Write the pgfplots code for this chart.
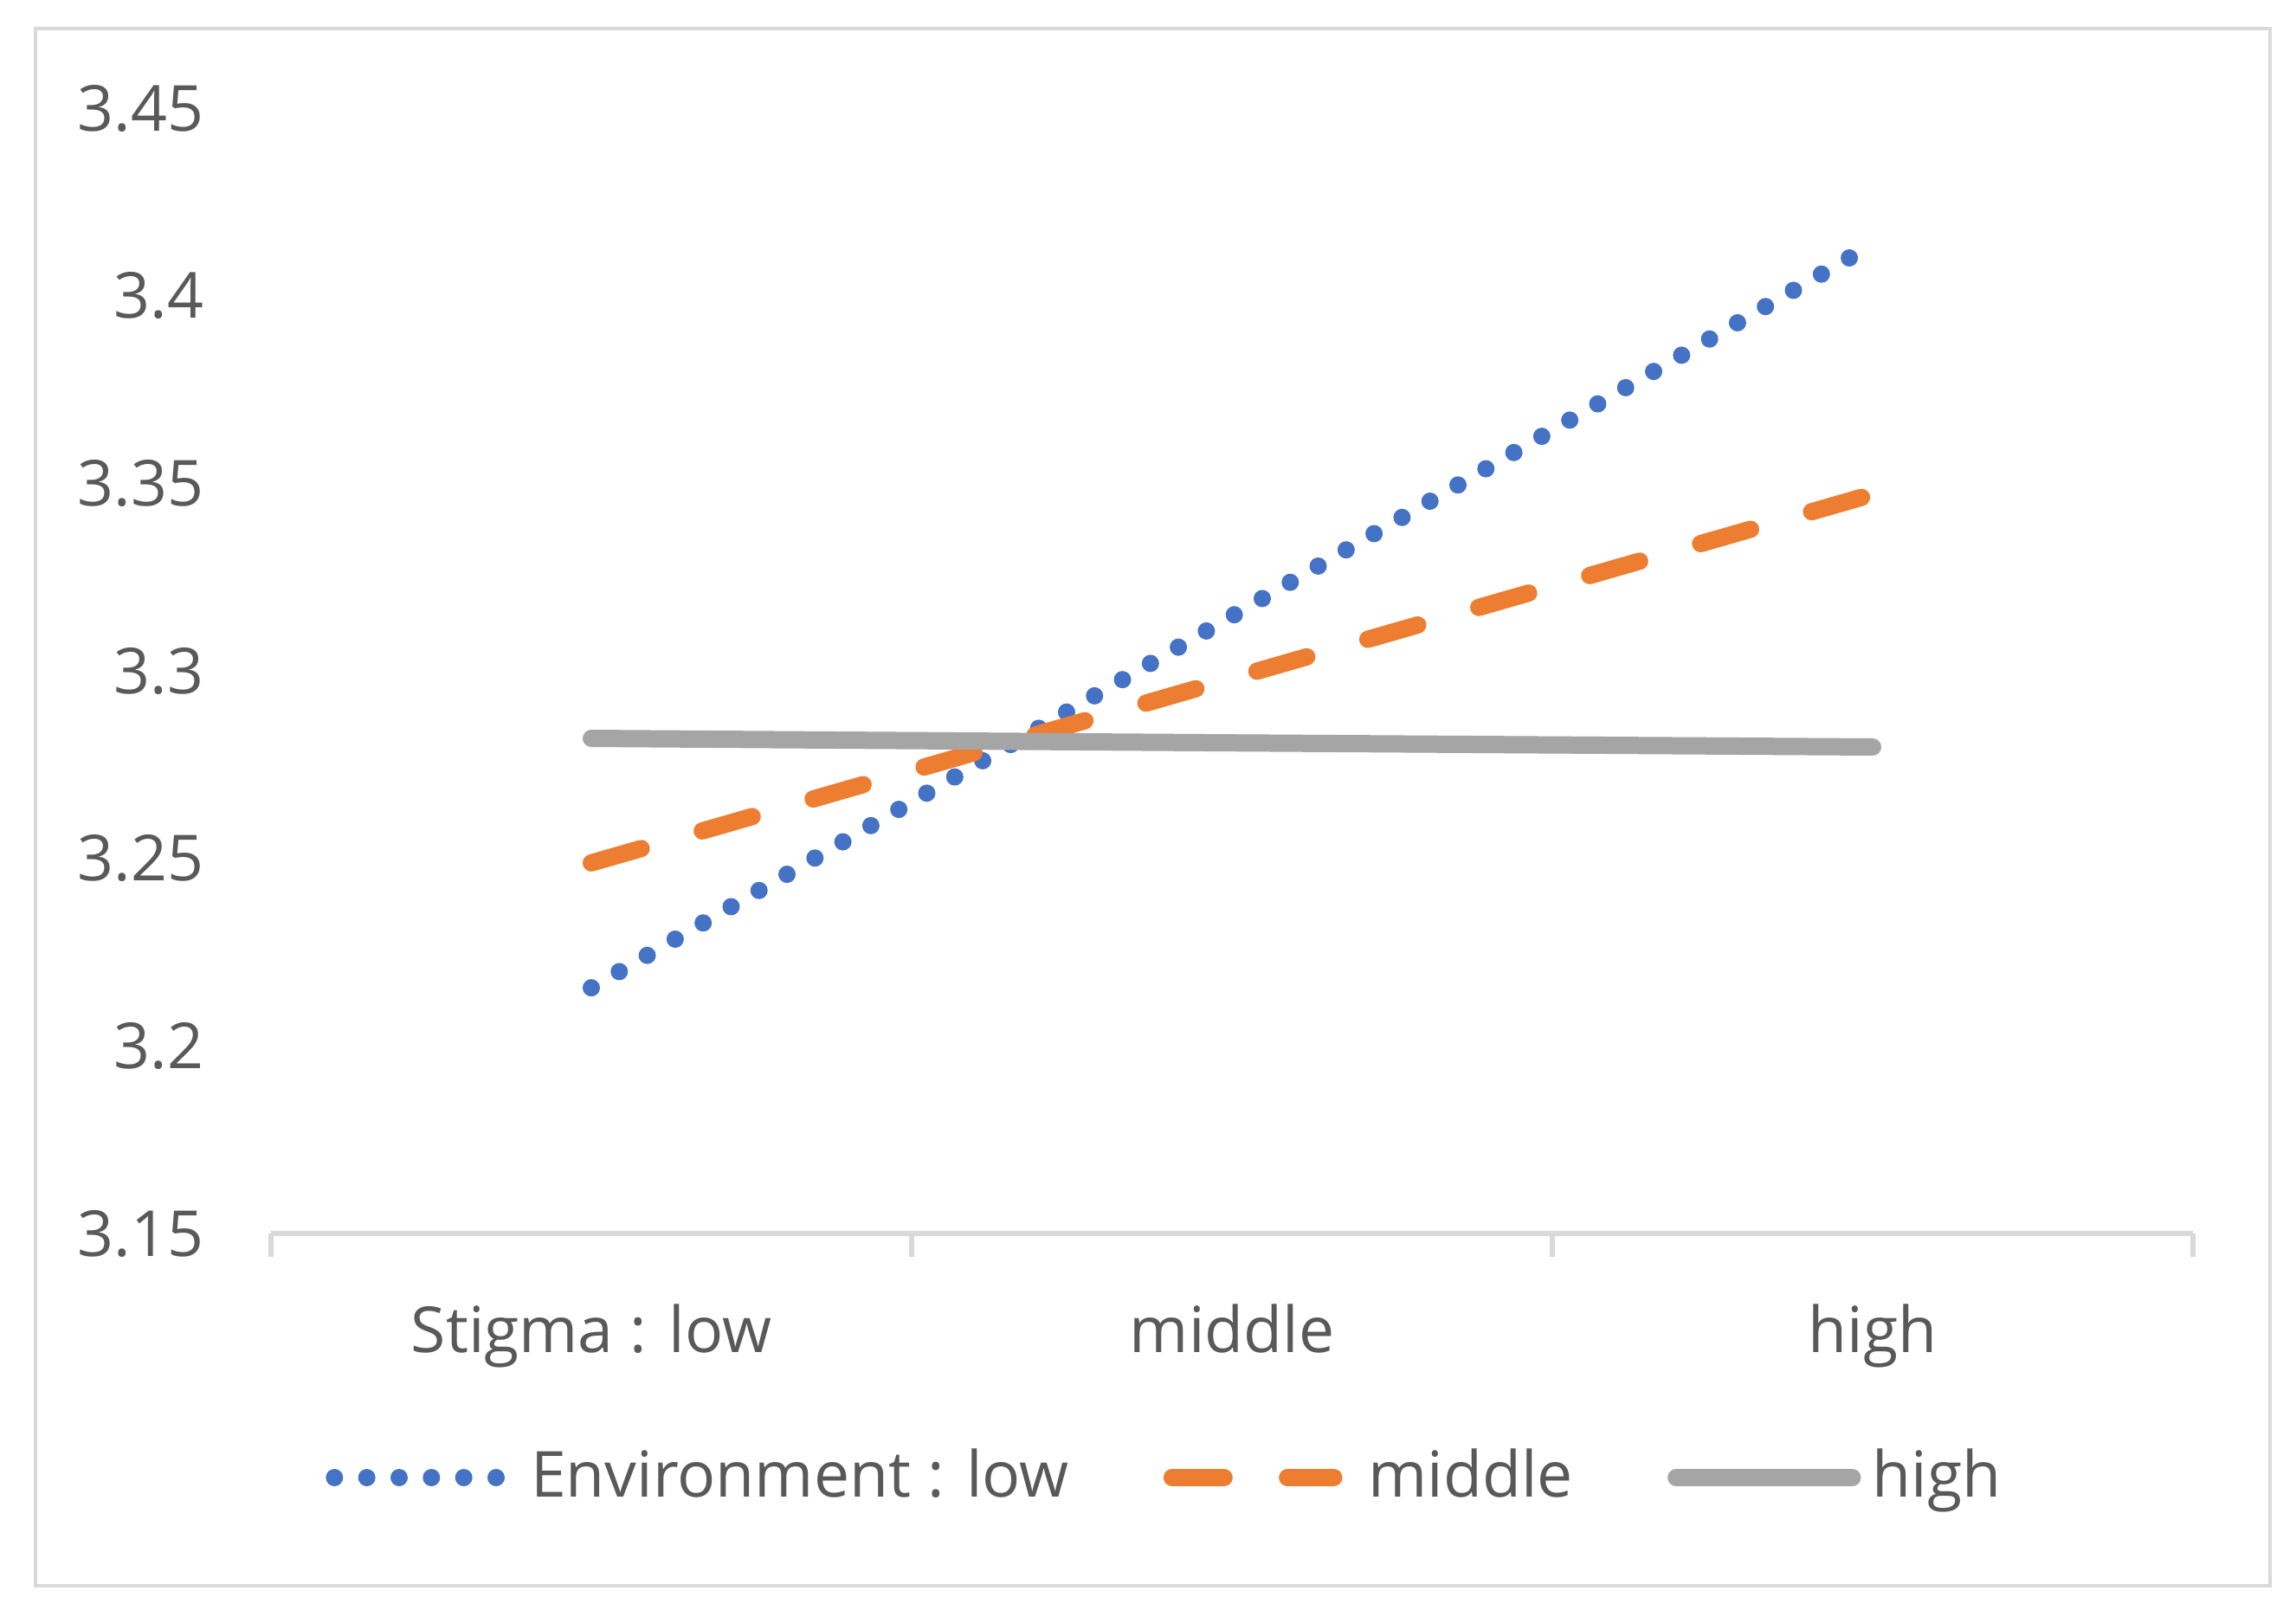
\documentclass[border=0pt]{standalone}
\usepackage{fontspec}
\setmainfont{Open Sans}
\usepackage{pgfplots}
\pgfplotsset{compat=1.18}
\definecolor{envlow}{HTML}{4472C4}
\definecolor{envmid}{HTML}{ED7D31}
\definecolor{envhigh}{HTML}{A5A5A5}
\definecolor{txtgray}{HTML}{595959}
\definecolor{axgray}{HTML}{D9D9D9}

\begin{document}
\begin{tikzpicture}[font=\fontsize{11}{13}\selectfont]
  % page size and chart border
  \useasboundingbox (-46.95pt,-65.1pt) rectangle (350.85pt,213.75pt);
  \draw[axgray, line width=0.6pt] (-40.8pt,-61.05pt) rectangle (346.35pt,208.8pt);
\begin{axis}[
    at={(0pt,0pt)}, anchor=south west,
    scale only axis,
    width=333pt, height=195pt,
    xmin=-0.5, xmax=2.5,
    ymin=3.15, ymax=3.45,
    clip=false,
    separate axis lines,
    axis x line*=bottom,
    axis y line*=left,
    axis line style={-},
    y axis line style={draw=none},
    x axis line style={draw=axgray, line width=0.8pt},
    ytick={3.15,3.2,3.25,3.3,3.35,3.4,3.45},
    yticklabels={3.15,3.2,3.25,3.3,3.35,3.4,3.45},
    xtick={0,1,2},
    xticklabels={Stigma : low, middle, high},
    minor xtick={-0.5,0.5,1.5,2.5},
    major tick length=0pt,
    minor tick length=4pt,
    tick align=outside,
    major tick style={draw=none},
    minor x tick style={draw=axgray, line width=0.8pt},
    yticklabel style={anchor=east, inner sep=0pt, xshift=-11.5pt, text=txtgray},
    xticklabel style={anchor=base, inner sep=0pt, yshift=-20.55pt, text=txtgray},
    % legend in one row below the axis
    legend columns=-1,
    legend cell align=left,
    legend image code/.code={\draw[#1] (0pt,0pt) -- (28pt,0pt);},
    legend style={
      at={(0,0)}, anchor=west,
      xshift=9.3pt, yshift=-42.3pt,
      draw=none, fill=none, inner sep=0pt,
      nodes={inner sep=0pt, text=txtgray},
      /tikz/every odd column/.append style={column sep=4.5pt},
      /tikz/every even column/.append style={column sep=16.4pt},
    },
]

  % Environment : low
  \addplot[envlow, line width=3pt, line cap=round, dash pattern=on 0pt off 5.6pt]
    coordinates {(0,3.2155) (1,3.3146) (2,3.4137)};

  % middle
  \addplot[envmid, line width=3pt, line cap=round, dash pattern=on 9pt off 11pt]
    coordinates {(0,3.2488) (1,3.2980) (2,3.3471)};

  % high (its legend line runs a little closer to its text)
  \addplot[envhigh, line width=3pt, line cap=round,
    legend image code/.code={
      \draw[envhigh, line width=3pt, line cap=round] (0pt,0pt) -- (28pt,0pt);
      \draw[envhigh, line width=3pt, line cap=round, overlay] (27pt,0pt) -- (30.5pt,0pt);}]
    coordinates {(0,3.2820) (1,3.2808) (2,3.2797)};

  \legend{Environment : low, middle, high}

\end{axis}
\end{tikzpicture}
\end{document}
